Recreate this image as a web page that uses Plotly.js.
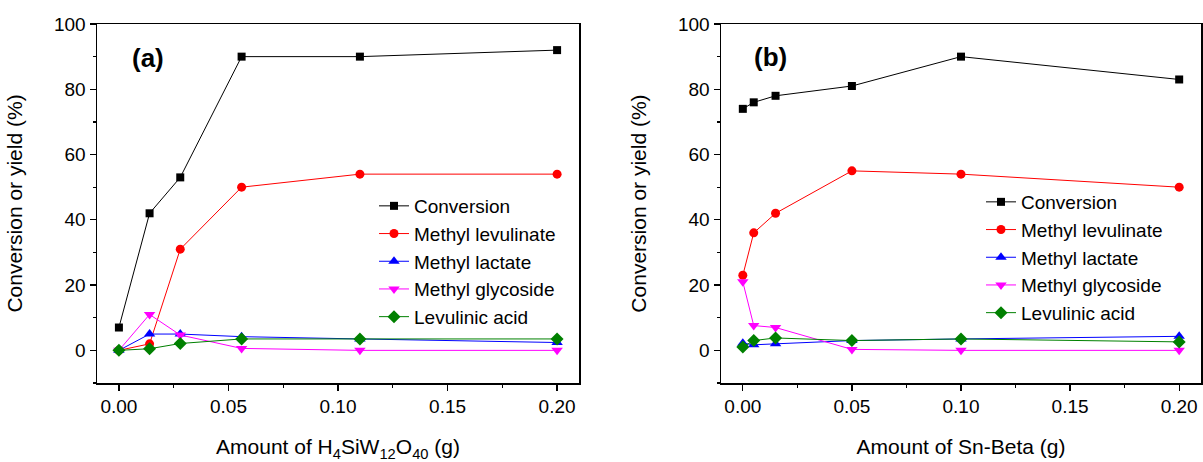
<!DOCTYPE html>
<html>
<head>
<meta charset="utf-8">
<script src="https://cdn.plot.ly/plotly-3.0.1.min.js"></script>
<style>html,body{margin:0;padding:0;background:#fff;}#chart{width:1203px;height:462px;}</style>
</head>
<body>
<div id="chart"></div>
<script>
// Panel (a): H4SiW12O40
const xA = [0, 0.014, 0.028, 0.056, 0.11, 0.2];
const convA = [7, 42, 53, 90, 90, 92];
const mlevA = [0, 2, 31, 50, 54, 54];
const mlacA = [0, 5, 5, 4.2, 3.5, 2.4];
const mglyA = [0, 11, 4.7, 0.6, 0, 0];
const laA = [0, 0.5, 2.1, 3.5, 3.5, 3.5];

// Panel (b): Sn-Beta
const xB = [0, 0.005, 0.015, 0.05, 0.1, 0.2];
const convB = [74, 76, 78, 81, 90, 83];
const mlevB = [23, 36, 42, 55, 54, 50];
const mlacB = [2.2, 1.7, 2, 3, 3.5, 4.3];
const mglyB = [21, 7.6, 7, 0.3, 0, 0];
const laB = [1, 3, 3.8, 3, 3.5, 2.6];

const seriesNames = ["Conversion", "Methyl levulinate", "Methyl lactate", "Methyl glycoside", "Levulinic acid"];
const xTickVals = [0, 0.05, 0.10, 0.15, 0.20];
const xTickText = ["0.00", "0.05", "0.10", "0.15", "0.20"];
const yTickVals = [0, 20, 40, 60, 80, 100];

const styles = [
  {color: "#000000", symbol: "square", size: 8},
  {color: "#ff0000", symbol: "circle", size: 9},
  {color: "#0000ff", symbol: "triangle-up", size: 10},
  {color: "#ff00ff", symbol: "triangle-down", size: 10},
  {color: "#008000", symbol: "diamond", size: 10}
];

const FONT = "Liberation Sans, Arial, sans-serif";
const dataA = [convA, mlevA, mlacA, mglyA, laA];
const dataB = [convB, mlevB, mlacB, mglyB, laB];

const traces = [];
dataA.forEach((ys, i) => traces.push({
  x: xA, y: ys, name: seriesNames[i], type: "scatter", mode: "lines+markers",
  xaxis: "x", yaxis: "y", legend: "legend",
  line: {color: styles[i].color, width: 1},
  marker: {color: styles[i].color, symbol: styles[i].symbol, size: styles[i].size}
}));
dataB.forEach((ys, i) => traces.push({
  x: xB, y: ys, name: seriesNames[i], type: "scatter", mode: "lines+markers",
  xaxis: "x2", yaxis: "y2", legend: "legend2",
  line: {color: styles[i].color, width: 1},
  marker: {color: styles[i].color, symbol: styles[i].symbol, size: styles[i].size}
}));

function xaxis(domain, title, anchor) {
  return {
    domain: domain, anchor: anchor, range: [-0.01, 0.21],
    tickvals: xTickVals, ticktext: xTickText,
    ticks: "outside", ticklen: 6, tickwidth: 1.2, tickcolor: "#000",
    minor: {tickvals: [0.025, 0.075, 0.125, 0.175], ticks: "outside", ticklen: 3, tickwidth: 1.2, tickcolor: "#000"},
    showline: true, linecolor: "#000", linewidth: 1.5, mirror: true,
    showgrid: false, zeroline: false,
    tickfont: {family: FONT, size: 19, color: "#000"},
    title: {text: title, font: {family: FONT, size: 21, color: "#000"}, standoff: 23}
  };
}
function yaxis(domain, anchor) {
  return {
    domain: domain, anchor: anchor, range: [-10, 100],
    tickvals: yTickVals,
    ticks: "outside", ticklen: 6, tickwidth: 1.2, tickcolor: "#000",
    minor: {dtick: 10, ticks: "outside", ticklen: 3, tickwidth: 1.2, tickcolor: "#000"},
    showline: true, linecolor: "#000", linewidth: 1.5, mirror: true,
    showgrid: false, zeroline: false,
    tickfont: {family: FONT, size: 19, color: "#000"},
    title: {text: "Conversion or yield (%)", font: {family: FONT, size: 21, color: "#000"}, standoff: 25}
  };
}

const layout = {
  width: 1203, height: 462,
  margin: {l: 0, r: 2, t: 24, b: 79},
  paper_bgcolor: "#fff", plot_bgcolor: "#fff",
  showlegend: true,
  font: {family: FONT, size: 19, color: "#000"},
  xaxis: xaxis([97/1201, 579/1201], "Amount of H<sub>4</sub>SiW<sub>12</sub>O<sub>40</sub> (g)", "y"),
  yaxis: yaxis([0, 1], "x"),
  xaxis2: xaxis([721/1201, 1], "Amount of Sn-Beta (g)", "y2"),
  yaxis2: yaxis([0, 1], "x2"),
  legend: {x: 374/1201, y: (383-187)/359, xanchor: "left", yanchor: "top",
           bgcolor: "rgba(0,0,0,0)", font: {family: FONT, size: 19, color: "#000"}, tracegroupgap: 0},
  legend2: {x: 981/1201, y: (383-183)/359, xanchor: "left", yanchor: "top",
           bgcolor: "rgba(0,0,0,0)", font: {family: FONT, size: 19, color: "#000"}, tracegroupgap: 0},
  annotations: [
    {text: "<b>(a)</b>", x: 148/1201, y: (383-58)/359, xref: "paper", yref: "paper",
     xanchor: "center", yanchor: "middle",
     showarrow: false, font: {family: FONT, size: 26, color: "#000"}},
    {text: "<b>(b)</b>", x: 771/1201, y: (383-57)/359, xref: "paper", yref: "paper",
     xanchor: "center", yanchor: "middle",
     showarrow: false, font: {family: FONT, size: 26, color: "#000"}}
  ]
};

Plotly.newPlot("chart", traces, layout, {displayModeBar: false, staticPlot: true});
</script>
</body>
</html>
